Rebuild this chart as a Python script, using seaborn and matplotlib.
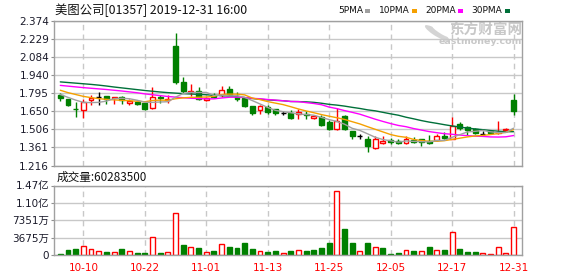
import matplotlib
matplotlib.use("Agg")
import numpy as np
import pandas as pd
import matplotlib.pyplot as plt
from matplotlib.patches import Rectangle, Ellipse
import seaborn as sns

# ---------------- data ----------------
dates = ['10-04', '10-08', '10-09', '10-10', '10-11', '10-14', '10-15', '10-16', '10-17', '10-18',
         '10-21', '10-22', '10-23', '10-24', '10-25', '10-28', '10-29', '10-30', '10-31',
         '11-01', '11-04', '11-05', '11-06', '11-07', '11-08', '11-11', '11-12', '11-13', '11-14',
         '11-15', '11-18', '11-19', '11-20', '11-21', '11-22', '11-25', '11-26', '11-27', '11-28', '11-29',
         '12-02', '12-03', '12-04', '12-05', '12-06', '12-09', '12-10', '12-11', '12-12', '12-13',
         '12-16', '12-17', '12-18', '12-19', '12-20', '12-23', '12-24', '12-27', '12-30', '12-31']

open_ = [1.779, 1.750, 1.670, 1.657, 1.737, 1.768, 1.774, 1.753, 1.766, 1.715,
         1.726, 1.715, 1.678, 1.766, 1.737, 2.174, 1.883, 1.803, 1.811, 1.742,
         1.782, 1.777, 1.830, 1.774, 1.755, 1.694, 1.657, 1.683, 1.667, 1.633,
         1.638, 1.625, 1.630, 1.593, 1.603, 1.566, 1.507, 1.609, 1.494, 1.453,
         1.430, 1.355, 1.395, 1.422, 1.414, 1.395, 1.422, 1.430, 1.411, 1.417,
         1.449, 1.430, 1.550, 1.523, 1.510, 1.467, 1.494, 1.475, 1.499, 1.742]
high = [1.793, 1.752, 1.723, 1.747, 1.779, 1.803, 1.776, 1.768, 1.774, 1.747,
        1.728, 1.718, 1.846, 1.777, 1.782, 2.278, 1.926, 1.867, 1.846, 1.766,
        1.793, 1.857, 1.854, 1.803, 1.757, 1.696, 1.702, 1.697, 1.670, 1.649,
        1.657, 1.665, 1.649, 1.622, 1.619, 1.579, 1.675, 1.617, 1.496, 1.470,
        1.454, 1.449, 1.449, 1.435, 1.425, 1.454, 1.443, 1.432, 1.462, 1.467,
        1.481, 1.603, 1.566, 1.529, 1.515, 1.489, 1.497, 1.569, 1.513, 1.790]
low = [1.734, 1.691, 1.606, 1.593, 1.699, 1.702, 1.707, 1.707, 1.707, 1.702,
       1.697, 1.659, 1.667, 1.715, 1.715, 1.867, 1.793, 1.769, 1.739, 1.734,
       1.755, 1.766, 1.774, 1.734, 1.683, 1.617, 1.630, 1.630, 1.622, 1.622,
       1.585, 1.590, 1.590, 1.585, 1.529, 1.497, 1.497, 1.497, 1.430, 1.430,
       1.321, 1.350, 1.390, 1.390, 1.387, 1.390, 1.395, 1.374, 1.385, 1.411,
       1.425, 1.425, 1.499, 1.462, 1.467, 1.459, 1.465, 1.467, 1.483, 1.617]
close = [1.755, 1.699, 1.667, 1.723, 1.755, 1.768, 1.747, 1.766, 1.739, 1.734,
         1.707, 1.667, 1.763, 1.753, 1.747, 1.889, 1.811, 1.811, 1.745, 1.755,
         1.763, 1.825, 1.782, 1.750, 1.689, 1.633, 1.691, 1.643, 1.633, 1.633,
         1.595, 1.641, 1.617, 1.611, 1.542, 1.507, 1.569, 1.505, 1.449, 1.453,
         1.374, 1.430, 1.414, 1.401, 1.395, 1.427, 1.406, 1.406, 1.393, 1.449,
         1.433, 1.529, 1.513, 1.502, 1.473, 1.467, 1.473, 1.483, 1.505, 1.649]

volume = [2.8e6, 10.6e6, 12.7e6, 18.4e6, 12.0e6, 8.5e6, 6.4e6, 6.4e6, 12.7e6, 8.5e6,
          4.2e6, 4.2e6, 37.5e6, 4.2e6, 6.4e6, 89.0e6, 21.2e6, 16.3e6, 14.8e6, 6.4e6,
          9.2e6, 23.3e6, 17.0e6, 14.8e6, 25.4e6, 12.7e6, 7.8e6, 6.4e6, 8.5e6, 4.2e6,
          8.5e6, 9.9e6, 8.5e6, 10.6e6, 14.8e6, 25.4e6, 135.0e6, 55.1e6, 25.4e6, 7.8e6,
          25.4e6, 16.3e6, 14.8e6, 2.1e6, 4.2e6, 9.9e6, 8.5e6, 7.8e6, 17.0e6, 9.9e6,
          10.6e6, 48.1e6, 12.7e6, 6.4e6, 6.4e6, 4.2e6, 2.1e6, 16.3e6, 4.2e6, 60283500]
vol_dir = ['down', 'down', 'down', 'up', 'up', 'up', 'down', 'up', 'down', 'up',
           'down', 'down', 'up', 'down', 'up', 'up', 'down', 'up', 'down', 'up',
           'down', 'up', 'down', 'down', 'down', 'down', 'up', 'down', 'down', 'up',
           'down', 'up', 'down', 'down', 'down', 'down', 'up', 'down', 'down', 'up',
           'down', 'up', 'down', 'down', 'down', 'up', 'down', 'up', 'down', 'up',
           'down', 'up', 'down', 'down', 'down', 'up', 'up', 'up', 'up', 'up']

ma5 = [1.785, 1.762, 1.740, 1.722, 1.720, 1.722, 1.732, 1.752, 1.755, 1.751,
       1.739, 1.723, 1.722, 1.725, 1.727, 1.764, 1.793, 1.802, 1.801, 1.802,
       1.777, 1.780, 1.774, 1.775, 1.762, 1.736, 1.709, 1.681, 1.658, 1.647,
       1.639, 1.629, 1.624, 1.619, 1.601, 1.584, 1.569, 1.547, 1.514, 1.497,
       1.470, 1.442, 1.424, 1.414, 1.403, 1.413, 1.409, 1.407, 1.405, 1.416,
       1.417, 1.442, 1.463, 1.485, 1.490, 1.497, 1.486, 1.480, 1.480, 1.515]
ma10 = [1.819, 1.800, 1.785, 1.770, 1.760, 1.752, 1.746, 1.742, 1.738, 1.735,
        1.731, 1.727, 1.737, 1.740, 1.739, 1.751, 1.758, 1.762, 1.763, 1.765,
        1.770, 1.786, 1.788, 1.788, 1.782, 1.756, 1.744, 1.728, 1.716, 1.704,
        1.687, 1.669, 1.653, 1.639, 1.624, 1.611, 1.599, 1.585, 1.567, 1.549,
        1.527, 1.506, 1.485, 1.464, 1.450, 1.442, 1.425, 1.416, 1.410, 1.410,
        1.415, 1.425, 1.435, 1.445, 1.453, 1.457, 1.464, 1.472, 1.483, 1.503]
ma20 = [1.858, 1.852, 1.846, 1.840, 1.835, 1.830, 1.825, 1.819, 1.813, 1.806,
        1.799, 1.790, 1.783, 1.776, 1.769, 1.764, 1.759, 1.755, 1.752, 1.750,
        1.750, 1.757, 1.763, 1.764, 1.761, 1.754, 1.751, 1.745, 1.740, 1.735,
        1.729, 1.728, 1.720, 1.713, 1.703, 1.684, 1.672, 1.656, 1.642, 1.627,
        1.607, 1.587, 1.569, 1.552, 1.537, 1.527, 1.512, 1.500, 1.488, 1.479,
        1.471, 1.466, 1.460, 1.455, 1.451, 1.449, 1.445, 1.444, 1.446, 1.456]
ma30 = [1.886, 1.881, 1.876, 1.871, 1.866, 1.860, 1.853, 1.845, 1.838, 1.831,
        1.824, 1.817, 1.811, 1.805, 1.800, 1.796, 1.792, 1.789, 1.786, 1.783,
        1.779, 1.776, 1.772, 1.766, 1.760, 1.753, 1.747, 1.742, 1.738, 1.735,
        1.729, 1.728, 1.726, 1.722, 1.715, 1.706, 1.700, 1.692, 1.682, 1.673,
        1.662, 1.654, 1.642, 1.630, 1.619, 1.603, 1.590, 1.576, 1.564, 1.554,
        1.543, 1.533, 1.524, 1.516, 1.509, 1.503, 1.496, 1.491, 1.487, 1.487]

ma_names = ['5PMA', '10PMA', '20PMA', '30PMA']
price_ticks = [1.216, 1.361, 1.506, 1.650, 1.795, 1.940, 2.084, 2.229, 2.374]
price_tick_labels = ['1.216', '1.361', '1.506', '1.650', '1.795', '1.940', '2.084', '2.229', '2.374']
vol_ticks = [0, 36755000, 73510000, 110265000, 147020000]
vol_tick_labels = ['0', '3675万', '7351万', '1.10亿', '1.47亿']
date_tick_labels = ['10-10', '10-22', '11-01', '11-13', '11-25', '12-05', '12-17', '12-31']
title = '美图公司[01357] 2019-12-31 16:00'
volume_title = '成交量:60283500'

# ---------------- style ----------------
sns.set_theme(style='white')
plt.rcParams['font.family'] = ['DejaVu Sans', 'Noto Sans CJK SC']

RED = '#ff0000'
GREEN = '#008000'
MA_COLORS = {'5PMA': '#a0a0a0', '10PMA': '#f5a000', '20PMA': '#ff00ff', '30PMA': '#00703a'}
GRID = '#c8c8c8'
FRAME = '#a0a0a0'

W, H = 578, 276
fig = plt.figure(figsize=(W / 100, H / 100), dpi=100)
fig.patch.set_facecolor('white')


def fx(px):
    return px / W


def fy(py):
    return 1 - py / H


L, R = 54, 522
ax = fig.add_axes([fx(L), fy(165.5), (R - L) / W, (165.5 - 21) / H])
axv = fig.add_axes([fx(L), fy(255), (R - L) / W, (255 - 185.5) / H])

x = np.arange(len(dates))
o = np.array(open_)
c = np.array(close)
h = np.array(high)
lo = np.array(low)
up = c > o + 1e-9
dn = c < o - 1e-9
flat = ~(up | dn)
cols = np.where(up, RED, np.where(dn, GREEN, '#000000'))
BW = 0.64

# watermark inside main axes (below data and frame)
ax.add_patch(Ellipse((fx(437), fy(33)), 10 / W, 19 / H, angle=35, transform=fig.transFigure,
                     facecolor='#d4d4d4', edgecolor='none', zorder=0.5))
ax.add_patch(Ellipse((fx(440.5), fy(31.5)), 5 / W, 13 / H, angle=35, transform=fig.transFigure,
                     facecolor='white', edgecolor='none', zorder=0.6))
ax.text(fx(522), fy(30), '东方财富网', transform=fig.transFigure, ha='right', va='center',
        fontsize=10.5, color='#c8c8c8', fontweight='bold', family=['Noto Sans CJK SC'], zorder=0.7)
ax.text(fx(522), fy(41.5), 'eastmoney.com', transform=fig.transFigure, ha='right', va='center',
        fontsize=6.8, color='#c8c8c8', fontweight='bold', zorder=0.7)

# wicks
ax.vlines(x, lo, h, colors=cols, lw=1, zorder=2)
# bodies
ax.bar(x[up], (c - o)[up], bottom=o[up], width=BW, facecolor='white',
       edgecolor=RED, lw=1, zorder=3)
ax.bar(x[dn], (o - c)[dn], bottom=c[dn], width=BW, facecolor=GREEN,
       edgecolor=GREEN, lw=1, zorder=3)
ax.hlines(o[flat], x[flat] - BW / 2, x[flat] + BW / 2, colors='#000000', lw=1, zorder=3)

# moving averages
ma_df = pd.DataFrame({
    'idx': np.tile(x, 4),
    'value': ma5 + ma10 + ma20 + ma30,
    'ma': sum([[n] * len(x) for n in ma_names], []),
})
sns.lineplot(data=ma_df, x='idx', y='value', hue='ma', hue_order=ma_names[::-1],
             palette=MA_COLORS, linewidth=1, legend=False, ax=ax,
             estimator=None, sort=False, zorder=4)

# volume
vdf = pd.DataFrame({'idx': x, 'volume': volume, 'dir': vol_dir})
sns.barplot(data=vdf[vdf['dir'] == 'down'], x='idx', y='volume', native_scale=True,
            color=GREEN, saturation=1, width=BW, errorbar=None, ax=axv,
            linewidth=1, edgecolor=GREEN, zorder=3)
sns.barplot(data=vdf[vdf['dir'] == 'up'], x='idx', y='volume', native_scale=True,
            color='white', saturation=1, width=BW, errorbar=None, ax=axv,
            linewidth=1, edgecolor=RED, zorder=3)

tick_pos = [dates.index(d) for d in date_tick_labels]
for a in (ax, axv):
    a.set_xlim(-0.82, 60.1)
    a.set_xlabel('')
    a.set_ylabel('')
    a.set_xticks(tick_pos)
    a.grid(axis='y', color=GRID, lw=1, ls='-')
    a.grid(axis='x', color=GRID, lw=1, ls=(0, (4, 3)))
    a.set_axisbelow(True)
    for s in a.spines.values():
        s.set_color(FRAME)
        s.set_linewidth(1)
        s.set_zorder(5)
    a.tick_params(axis='y', left=True, direction='out', length=2.5, width=0.8,
                  color='#909090', labelsize=7.5, labelcolor='#1a1a2a', pad=1)
    a.tick_params(axis='x', bottom=False, length=0)

ax.set_ylim(1.216, 2.374)
ax.set_yticks(price_ticks)
ax.set_yticklabels(price_tick_labels)
ax.set_xticklabels([])

axv.set_ylim(0, vol_ticks[-1])
axv.set_yticks(vol_ticks)
axv.set_yticklabels(vol_tick_labels)
axv.set_xticklabels(date_tick_labels, color=RED, fontsize=7.5)
axv.tick_params(axis='x', pad=6)

# header texts
fig.text(fx(55), fy(10.5), title, ha='left', va='center', fontsize=8.9,
         family=['Noto Sans CJK SC', 'DejaVu Sans'], color='#111111')
fig.text(fx(57), fy(177), volume_title, ha='left', va='center', fontsize=8.4,
         family=['Noto Sans CJK SC', 'DejaVu Sans'], color='#111111')

leg_x = {'5PMA': (338, 365), '10PMA': (379, 412), '20PMA': (425, 458), '30PMA': (471, 505)}
for name in ma_names:
    tx, sx = leg_x[name]
    fig.text(fx(tx), fy(10.5), name, ha='left', va='center', fontsize=6.5, color='#111111')
    fig.add_artist(Rectangle((fx(sx), fy(12.5)), 5 / W, 4 / H, transform=fig.transFigure,
                             facecolor=MA_COLORS[name], edgecolor='none'))

fig.savefig('out.png', dpi=100, facecolor='white')
